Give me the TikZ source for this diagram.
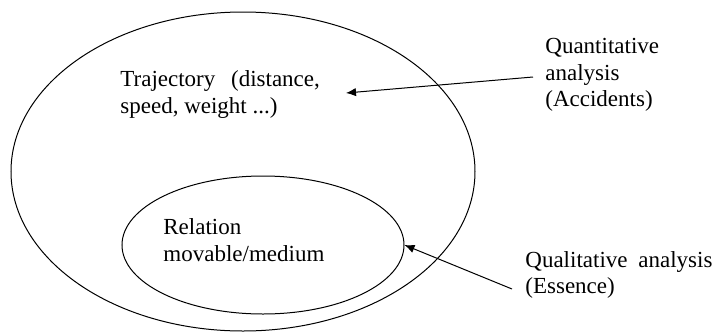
\documentclass[tikz,border=0pt]{standalone}
\usepackage{fontspec}
\setmainfont{Liberation Serif}
\usetikzlibrary{shapes.geometric,arrows.meta}
\begin{document}
\begin{tikzpicture}[x=0.5pt,y=-0.5pt,
  blob/.style={ellipse,draw,line width=0.5pt,inner sep=0pt},
  lbl/.style={anchor=base west,inner sep=0pt,font=\fontsize{11.5pt}{14pt}\selectfont},
  pointer/.style={draw,line width=0.5pt,-{Latex[length=5pt,width=4.2pt]}}]
\useasboundingbox (0,0) rectangle (714,333);
\node[blob,minimum width=232pt,minimum height=159.5pt] (outer) at (243,171.5) {};
\node[blob,minimum width=141pt,minimum height=69pt] (inner) at (263,245) {};
\node[lbl] (traj1) at (120,86) {Trajectory\hspace{5pt} (distance,};
\node[lbl] (traj2) at (120,113) {speed, weight ...)};
\node[lbl] (rel1) at (163,234) {Relation};
\node[lbl] (rel2) at (163,261) {movable/medium};
\node[lbl] (quan1) at (545,53) {Quantitative};
\node[lbl] (quan2) at (545,80) {analysis};
\node[lbl] (quan3) at (545,106) {(Accidents)};
\node[lbl] (qual1) at (525,267) {Qualitative\hspace{2.5pt} analysis};
\node[lbl] (qual2) at (525,293) {(Essence)};
\coordinate (qstart) at (533,77);
\coordinate (ttip) at (346,93);
\coordinate (estart) at (512,289);
\draw[pointer] (qstart) -- (ttip);
\draw[pointer] (estart) -- (inner.east);
\end{tikzpicture}
\end{document}
